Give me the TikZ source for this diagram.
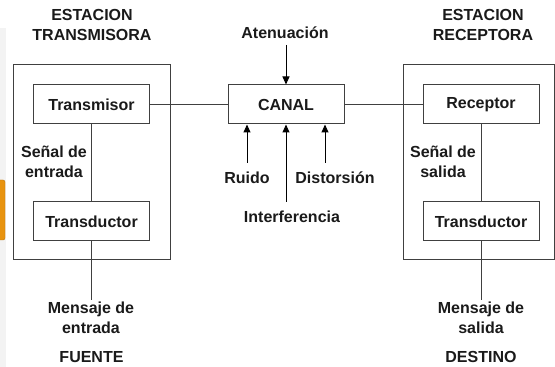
\documentclass[tikz,border=0pt]{standalone}
\usepackage{fontspec}
\setmainfont{Liberation Sans}
\usetikzlibrary{arrows.meta}
\definecolor{comLine}{HTML}{404040}
\definecolor{comText}{HTML}{1A1A1A}
\definecolor{comStrip}{HTML}{F3F3F3}
\definecolor{comOrange}{HTML}{E8930F}
\tikzset{
  com station/.style={draw=comLine, line width=1pt},
  com block/.style={draw=comLine, line width=1pt, fill=white, minimum width=116pt, minimum height=39pt, inner sep=0pt, font=\fontsize{16}{20}\selectfont\bfseries, text=comText},
  com wire/.style={draw=comLine, line width=1pt},
  com arrow/.style={draw=black, line width=1pt, -{Triangle[length=8pt,width=7pt]}},
  com label/.style={font=\fontsize{16}{20}\selectfont\bfseries, text=comText, align=center, inner sep=0pt},
}

\begin{document}
\begin{tikzpicture}[x=1pt,y=1pt]
  \useasboundingbox (0,0) rectangle (555,367);
  % borde de la captura
  \fill[comStrip] (0,0) rectangle (6,339);
  \draw[comOrange!80!black, fill=comOrange, rounded corners=2pt] (-4,127) rectangle (5,187);
  % estaciones
  \draw[com station] (13,107) rectangle (170,302);
  \draw[com station] (403,107) rectangle (554,302);
  \node[com label] at (92,342) {ESTACION\\TRANSMISORA};
  \node[com label] at (483,342) {ESTACION\\RECEPTORA};
  % bloques
  \node[com block] (trans) at (91.5,262.5) {Transmisor};
  \node[com block] (tdin) at (91.5,145.5) {Transductor};
  \node[com block] (canal) at (286,262.5) {CANAL};
  \node[com block] (recep) at (481,262.5) {Receptor};
  \node[com block] (tdout) at (481,145.5) {Transductor};
  \coordinate (min) at (91.5,67);
  \coordinate (mout) at (481,67);
  \draw[com wire] (trans) -- (canal);
  \draw[com wire] (canal) -- (recep);
  \draw[com wire] (trans) -- (tdin);
  \draw[com wire] (tdin) -- (min);
  \draw[com wire] (recep) -- (tdout);
  \draw[com wire] (tdout) -- (mout);
  \node[com label] at (54,205) {Señal de\\entrada};
  \node[com label] at (443,205) {Señal de\\salida};
  \node[com label] at (91,49.5) {Mensaje de\\entrada};
  \node[com label] at (481,49.5) {Mensaje de\\salida};
  \node[com label] at (91.5,10) {FUENTE};
  \node[com label] at (481,10) {DESTINO};
  % perturbaciones del canal
  \node[com label] (aten) at (285,334) {Atenuación};
  \node[com label] (ruido) at (247,189) {Ruido};
  \node[com label] (dist) at (335,189) {Distorsión};
  \node[com label] (inter) at (292,150) {Interferencia};
  \coordinate (atenA) at (286,322);
  \coordinate (ruidoA) at (247,204);
  \coordinate (interA) at (286,165);
  \coordinate (distA) at (325,204);
  \draw[com arrow] (atenA) -- (canal.north);
  \draw[com arrow] (ruidoA) -- (ruidoA |- canal.south);
  \draw[com arrow] (interA) -- (canal.south);
  \draw[com arrow] (distA) -- (distA |- canal.south);
\end{tikzpicture}
\end{document}
